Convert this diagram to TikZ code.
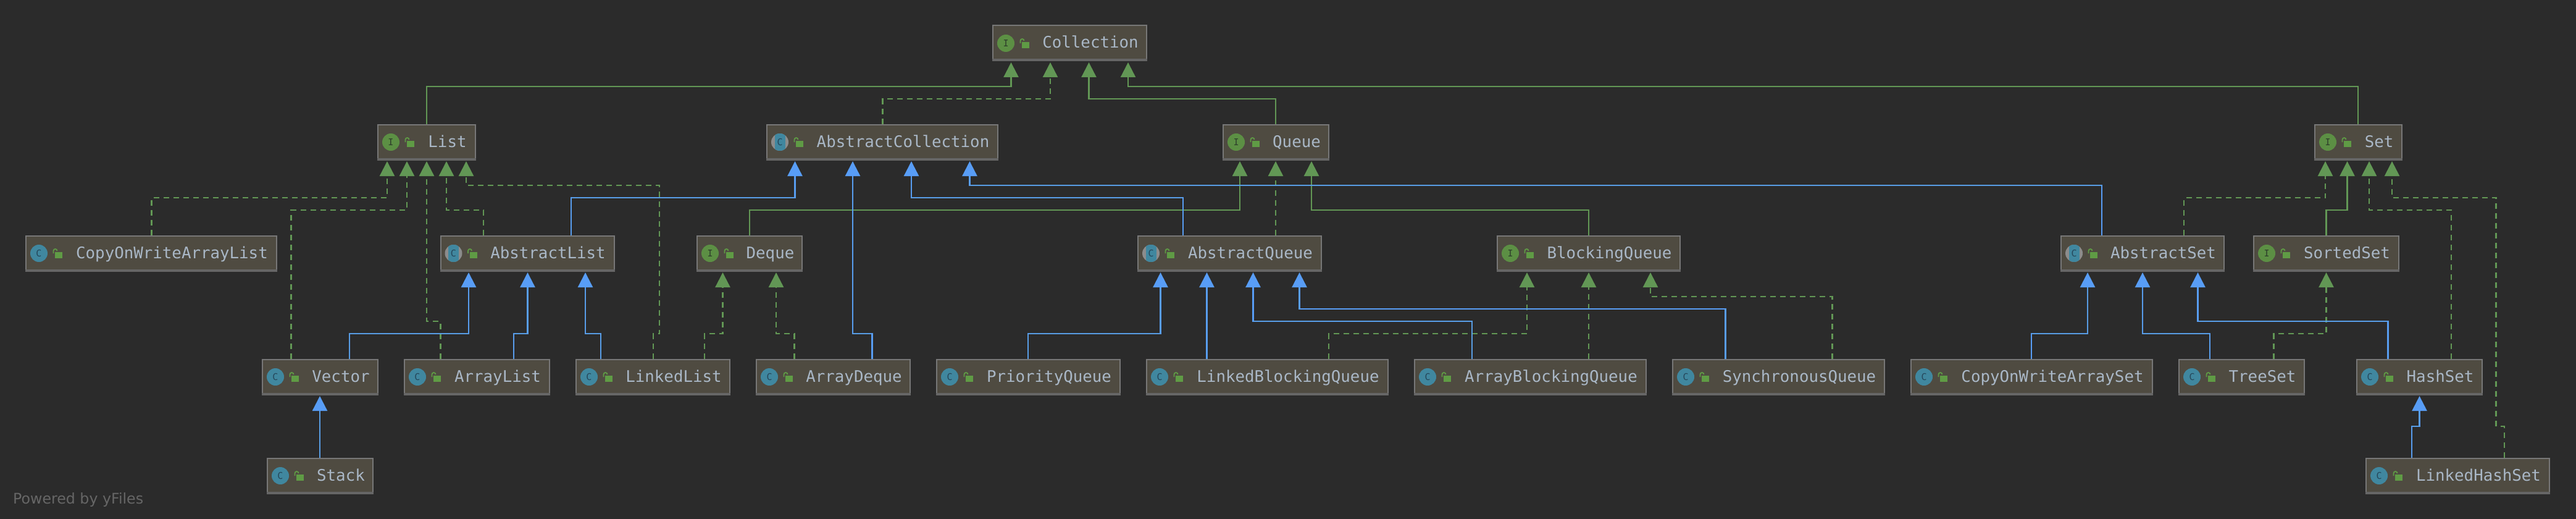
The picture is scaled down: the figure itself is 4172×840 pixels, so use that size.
\documentclass[tikz,border=0pt]{standalone}
\usepackage{fontspec}
\setmainfont{DejaVu Sans}
\newfontfamily\monofont{DejaVu Sans Mono}
\usetikzlibrary{arrows.meta}

\definecolor{bgdark}{HTML}{2B2B2B}
\definecolor{boxfill}{HTML}{4F4B41}
\definecolor{boxline}{HTML}{777777}
\definecolor{boxstrip}{HTML}{666666}
\definecolor{boxtext}{HTML}{A9B7C6}
\definecolor{inhgreen}{HTML}{629755}
\definecolor{inhblue}{HTML}{589DF6}
\definecolor{lockgreen}{HTML}{5F9B45}
\definecolor{markgreen}{HTML}{5C8F44}
\definecolor{markteal}{HTML}{40879F}
\definecolor{markgrey}{HTML}{8C8C8C}
\definecolor{inkgreen}{HTML}{2E3F2B}
\definecolor{inkteal}{HTML}{25475A}

\tikzset{
    umlbox/.style={draw=boxline, fill=boxfill, line width=2pt, inner xsep=0pt, inner ysep=0pt,
        minimum height=57pt, text height=22pt, text depth=6pt, text=boxtext,
        font=\monofont\fontsize{25.8}{30}\selectfont},
    umlmark/.style={circle, minimum size=28pt, inner sep=0pt, font=\monofont\fontsize{15}{15}\selectfont},
    ifacemark/.style={umlmark, fill=markgreen, text=inkgreen, node contents={I}},
    classmark/.style={umlmark, fill=markteal, text=inkteal, node contents={C}},
    absmark/.style={umlmark, fill=markgrey, text=inkteal, node contents={C},
        path picture={\fill[markteal] ([xshift=-8.5pt]path picture bounding box.south) rectangle ([xshift=8.5pt]path picture bounding box.north);}},
    inhline/.style={line width=2.4pt, shorten >=1.5pt, -{Triangle[width=24pt,length=24pt]}},
    extline/.style={inhline, draw=inhgreen},
    implline/.style={extline, dash pattern=on 9pt off 7pt},
    classline/.style={inhline, draw=inhblue},
}

\begin{document}
\begin{tikzpicture}[x=1pt, y=-1pt]
    \fill[bgdark] (0,0) rectangle (4172,840);
    \useasboundingbox (0,0) rectangle (4172,840);

    % boxes: name / left / right / top / mark
    \foreach \name/\xa/\xb/\ya/\kind in {
        Collection/1607/1858/40.5/ifacemark,
        List/611/771/200.5/ifacemark, AbstractCollection/1241/1617/200.5/absmark,
        Queue/1980/2153/200.5/ifacemark, Set/3748/3891/200.5/ifacemark,
        CopyOnWriteArrayList/41/449/380.5/classmark, AbstractList/712.5/995.5/380.5/absmark,
        Deque/1128/1300/380.5/ifacemark, AbstractQueue/1842/2141/380.5/absmark,
        BlockingQueue/2424/2722/380.5/ifacemark, AbstractSet/3337/3603/380.5/absmark,
        SortedSet/3649/3886/380.5/ifacemark,
        Vector/424/613/580.5/classmark, ArrayList/654/891/580.5/classmark,
        LinkedList/932/1183/580.5/classmark, ArrayDeque/1224/1475/580.5/classmark,
        PriorityQueue/1516/1815/580.5/classmark, LinkedBlockingQueue/1856/2249/580.5/classmark,
        ArrayBlockingQueue/2290/2667/580.5/classmark, SynchronousQueue/2708/3053/580.5/classmark,
        CopyOnWriteArraySet/3094/3487/580.5/classmark, TreeSet/3528/3733/580.5/classmark,
        HashSet/3816/4021/580.5/classmark,
        Stack/432/605/740.5/classmark, LinkedHashSet/3831/4130/740.5/classmark}
    {
        \pgfmathsetmacro{\w}{\xb-\xa-2}
        \node[umlbox, minimum width=\w pt] (\name) at ({(\xa+\xb)/2},{\ya+29.5}) {\hspace*{67pt}\name};
        \fill[boxstrip] (\name.south west) rectangle ([yshift=4pt]\name.south east);
        \node (\name-mark) at ([xshift=22pt]\name.west) [\kind];
        \fill[lockgreen] ([xshift=48pt,yshift=2pt]\name.west) rectangle ++(12,10);
        \draw[lockgreen, line width=1.8pt] ([xshift=45.5pt]\name.west) -- ++(0,-4) arc[start angle=180, end angle=0, radius=3pt];
    }

    % from / x / bus / to / x
    \foreach \from/\fx/\bus/\to/\tx in {
        List/691/140/Collection/1637.5, Queue/2066/160/Collection/1763.5, Set/3819/140/Collection/1827,
        Deque/1214/340/Queue/2008, BlockingQueue/2573/340/Queue/2124,
        SortedSet/3767.5/340/Set/3801.5}
    {\draw[extline] (\fx,0 |- \from.north) -- (\fx,\bus) -- (\tx,\bus) -- (\tx,0 |- \to.south);}

    \foreach \from/\fx/\bus/\to/\tx in {
        AbstractCollection/1429.5/160/Collection/1701,
        CopyOnWriteArrayList/245.5/320/List/627, Vector/471.5/340/List/659,
        ArrayList/713.5/520/List/691, AbstractList/783/340/List/723,
        LinkedList/1141/540/Deque/1170.5, ArrayDeque/1286.5/540/Deque/1257,
        AbstractQueue/2066/320/Queue/2066,
        LinkedBlockingQueue/2152/540/BlockingQueue/2473, ArrayBlockingQueue/2573/500/BlockingQueue/2573,
        SynchronousQueue/2967.5/480/BlockingQueue/2673,
        TreeSet/3682.5/540/SortedSet/3767.5,
        AbstractSet/3537/320/Set/3766, HashSet/3970/340/Set/3837}
    {\draw[implline] (\fx,0 |- \from.north) -- (\fx,\bus) -- (\tx,\bus) -- (\tx,0 |- \to.south);}

    \foreach \from/\fx/\bus/\to/\tx in {
        AbstractList/925/320/AbstractCollection/1287.5, AbstractQueue/1916/320/AbstractCollection/1476,
        AbstractSet/3404/300/AbstractCollection/1570.5, ArrayDeque/1412.5/540/AbstractCollection/1381,
        Vector/566/540/AbstractList/759, ArrayList/832/540/AbstractList/854.5, LinkedList/973/540/AbstractList/948,
        Stack/518/660/Vector/518,
        PriorityQueue/1665/540/AbstractQueue/1879.5, LinkedBlockingQueue/1954.5/500/AbstractQueue/1954.5,
        ArrayBlockingQueue/2384/520/AbstractQueue/2029.5, SynchronousQueue/2794.5/500/AbstractQueue/2104.5,
        CopyOnWriteArraySet/3290/540/AbstractSet/3381, TreeSet/3579/540/AbstractSet/3470,
        HashSet/3867.5/520/AbstractSet/3559.5, LinkedHashSet/3906/690/HashSet/3918.5}
    {\draw[classline] (\fx,0 |- \from.north) -- (\fx,\bus) -- (\tx,\bus) -- (\tx,0 |- \to.south);}

    % the two with a second bend
    \draw[implline] (1058,0 |- LinkedList.north) -- (1058,540) -- (1068,540) -- (1068,300) -- (755,300) -- (755,0 |- List.south);
    \draw[implline] (4056,0 |- LinkedHashSet.north) -- (4056,690) -- (4042.5,690) -- (4042.5,320) -- (3874,320) -- (3874,0 |- Set.south);

    \node[anchor=base west, inner sep=0pt, text=boxstrip, font=\fontsize{23.7}{26}\selectfont] (poweredby) at (21,815) {Powered by yFiles};
\end{tikzpicture}
\end{document}
